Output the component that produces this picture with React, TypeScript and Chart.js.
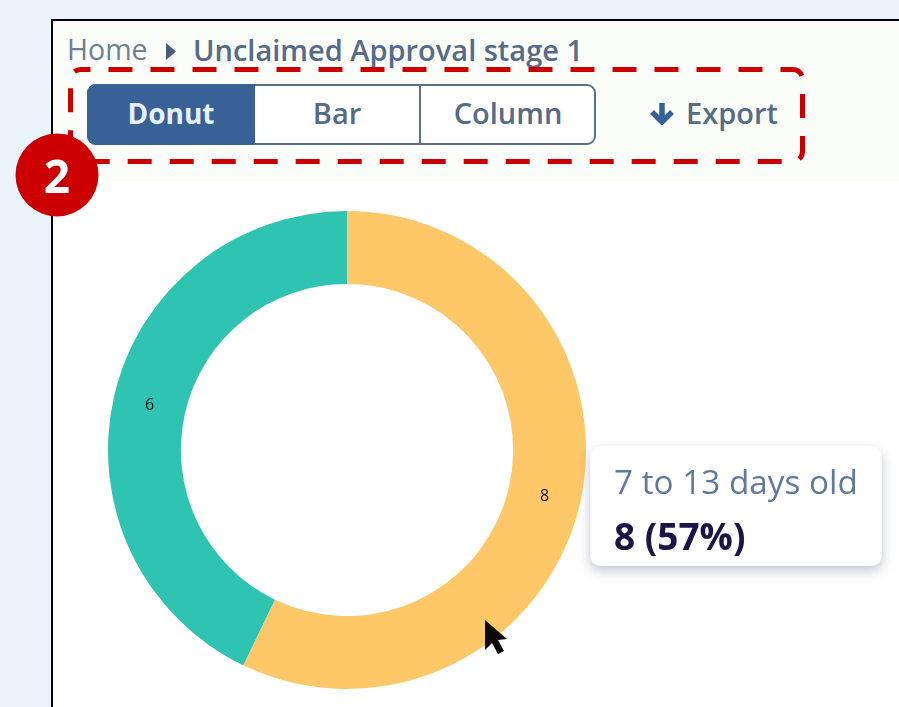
import React, { useEffect, useRef } from "react";
import { Chart, registerables } from "chart.js";

Chart.register(...registerables);

const segmentLabels = ["7 to 13 days old", "Other"];
const segmentValues = [8, 6];
const segmentColors = ["#fec868", "#2ec4b1"];
const viewOptions = ["Donut", "Bar", "Column"];
const crumbs = ["Home", "Unclaimed Approval stage 1"];

const FONT = '"Open Sans", "Noto Sans", sans-serif';
const total = segmentValues.reduce((a, b) => a + b, 0);

const sliceLabels = {
  id: "sliceLabels",
  afterDatasetsDraw(chart: any) {
    const { ctx } = chart;
    const meta = chart.getDatasetMeta(0);
    ctx.save();
    ctx.font = `16px ${FONT}`;
    ctx.fillStyle = "#141414";
    ctx.textAlign = "center";
    ctx.textBaseline = "middle";
    meta.data.forEach((arc: any, i: number) => {
      const p = arc.tooltipPosition();
      ctx.fillText(String(segmentValues[i]), p.x, p.y + 1);
    });
    ctx.restore();
  },
};

const abs = (left: number, top: number, extra: React.CSSProperties = {}): React.CSSProperties => ({
  position: "absolute",
  left,
  top,
  whiteSpace: "nowrap",
  ...extra,
});

export default function App() {
  const ref = useRef<HTMLCanvasElement>(null);

  useEffect(() => {
    const chart = new Chart(ref.current!, {
      type: "doughnut",
      data: {
        labels: segmentLabels,
        datasets: [
          {
            data: segmentValues,
            backgroundColor: segmentColors,
            borderWidth: 0,
          },
        ],
      },
      options: {
        responsive: false,
        animation: false,
        cutout: "69.5%",
        layout: { padding: 0 },
        plugins: { legend: { display: false }, tooltip: { enabled: false } },
      },
      plugins: [sliceLabels],
    });
    return () => chart.destroy();
  }, []);

  const btnEdges = [87, 255, 421, 595];

  return (
    <div style={{ position: "fixed", left: 0, top: 0, width: 899, height: 707, overflow: "hidden", background: "#ebf3fb", fontFamily: FONT }}>
      {/* card */}
      <div style={{ position: "absolute", left: 51, top: 19, width: 900, height: 740, background: "#ffffff", border: "2px solid #000000", boxSizing: "border-box" }} />
      <div style={{ position: "absolute", left: 53, top: 21, width: 846, height: 160, background: "#fbfdf9" }} />

      {/* breadcrumb */}
      <div style={abs(67, 31, { fontSize: 28.5, lineHeight: "37px", color: "#6f7f97" })}>{crumbs[0]}</div>
      <svg style={abs(164, 42)} width="14" height="20">
        <polygon points="2,1 12,9.5 2,18" fill="#475c7d" />
      </svg>
      <div style={abs(193, 31, { fontSize: 29, lineHeight: "37px", fontWeight: 600, color: "#566b88" })}>{crumbs[1]}</div>

      {/* segmented buttons */}
      <div style={{ position: "absolute", left: 87, top: 84, width: 509, height: 61, background: "#ffffff", border: "2px solid #5c708c", borderRadius: 9, boxSizing: "border-box" }} />
      {viewOptions.map((v, i) => (
        <div
          key={v}
          style={abs(btnEdges[i], 84, {
            width: btnEdges[i + 1] - btnEdges[i],
            height: 61,
            lineHeight: "58px",
            textAlign: "center",
            fontSize: i === 0 ? 28 : 29,
            fontWeight: i === 0 ? 700 : 600,
            color: i === 0 ? "#e6f0fa" : "#566b88",
            background: i === 0 ? "#386297" : "transparent",
            borderRadius: i === 0 ? "9px 0 0 9px" : 0,
            borderRight: i === 1 ? "2px solid #5c708c" : undefined,
            boxSizing: "border-box",
          })}
        >
          {v}
        </div>
      ))}

      {/* export */}
      <svg style={abs(649, 101)} width="26" height="24">
        <path d="M13 2 V20 M3 11 L13 21 L23 11" fill="none" stroke="#386297" strokeWidth="5.5" />
      </svg>
      <div style={abs(686, 94, { fontSize: 29, lineHeight: "37px", fontWeight: 600, color: "#566b88" })}>Export</div>

      {/* chart */}
      <canvas ref={ref} width={478} height={478} style={{ position: "absolute", left: 108, top: 211, width: 478, height: 478 }} />

      {/* tooltip */}
      <div style={{ position: "absolute", left: 590, top: 446, width: 292, height: 120, background: "#ffffff", borderRadius: 11, boxShadow: "0 5px 12px rgba(60,70,110,0.3)" }} />
      <div style={abs(614, 459, { fontSize: 33.3, lineHeight: "45px", color: "#5f7a9c" })}>{segmentLabels[0]}</div>
      <div style={abs(614, 513, { fontSize: 37, lineHeight: "45px", fontWeight: 700, color: "#1c1446" })}>
        {`${segmentValues[0]} (${Math.round((segmentValues[0] / total) * 100)}%)`}
      </div>

      {/* annotations */}
      <svg style={{ position: "absolute", left: 0, top: 0 }} width="899" height="707">
        <rect x="70.5" y="69.5" width="732" height="92" rx="10" fill="none" stroke="#cc0000" strokeWidth="5" strokeDasharray="24 18" strokeDashoffset="14" />
        <circle cx="57" cy="175" r="41.5" fill="#cc0000" />
        <polygon points="485,620 485,650 492,643 498,654 504,651 498,640 507,639" fill="#0a0a0a" />
      </svg>
      <div style={abs(15, 133, { width: 84, height: 84, lineHeight: "84px", textAlign: "center", fontSize: 46, fontWeight: 700, color: "#ffffff" })}>2</div>
    </div>
  );
}
